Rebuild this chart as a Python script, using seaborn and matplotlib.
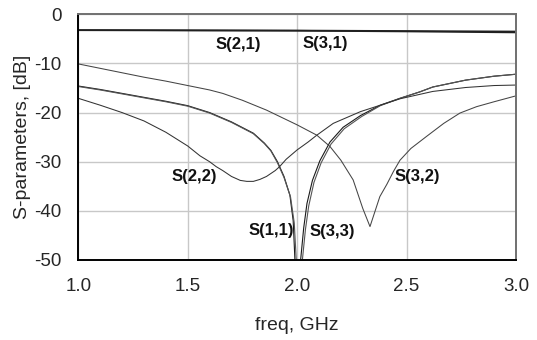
import numpy as np
import pandas as pd
import matplotlib
matplotlib.use('Agg')
import matplotlib.pyplot as plt
import seaborn as sns
from matplotlib.ticker import MultipleLocator

# --- DATA (doc tu hinh) ---

f_21 = [1.0, 1.5, 2.0, 2.5, 3.0]
s21 = [-3.2, -3.25, -3.3, -3.4, -3.5]
f_31 = [1.0, 1.5, 2.0, 2.5, 3.0]
s31 = [-3.25, -3.3, -3.35, -3.5, -3.7]

f_11 = [1.0, 1.1, 1.2, 1.3, 1.4, 1.5, 1.6, 1.7, 1.8, 1.85, 1.88, 1.91, 1.94,
        1.967, 1.982, 1.99, 2.003, 2.016, 2.03, 2.045, 2.07, 2.104, 2.15,
        2.21, 2.29, 2.38, 2.47, 2.56, 2.62, 2.77, 2.9, 3.0]
s11 = [-14.6, -15.3, -16.1, -16.9, -17.7, -18.6, -20.0, -21.9, -24.2, -26.2,
       -27.7, -30.0, -33.0, -36.8, -42.0, -50.0, -62.0, -50.0, -43.5, -38.5,
       -33.8, -29.8, -26.0, -23.0, -20.6, -18.5, -17.1, -15.8, -14.8, -13.4,
       -12.6, -12.2]

f_33 = [1.0, 1.1, 1.2, 1.3, 1.4, 1.5, 1.6, 1.7, 1.8, 1.85, 1.88, 1.91, 1.94,
        1.97, 1.987, 1.996, 2.01, 2.024, 2.038, 2.053, 2.077, 2.11, 2.155,
        2.215, 2.295, 2.38, 2.47, 2.56, 2.62, 2.77, 2.9, 3.0]
s33 = [-14.7, -15.4, -16.2, -17.0, -17.8, -18.7, -20.1, -22.0, -24.3, -26.3,
       -27.8, -30.2, -33.2, -37.2, -42.5, -50.0, -62.0, -50.0, -43.8, -39.0,
       -34.2, -30.2, -26.4, -23.3, -20.8, -18.6, -17.1, -15.8, -14.8, -13.4,
       -12.6, -12.2]

f_22 = [1.0, 1.1, 1.2, 1.3, 1.4, 1.5, 1.556, 1.6, 1.63, 1.66, 1.7, 1.74,
        1.77, 1.8, 1.83, 1.86, 1.9, 1.92, 1.95, 2.0, 2.05, 2.09, 2.165,
        2.29, 2.38, 2.47, 2.62, 2.77, 2.9, 3.0]
s22 = [-17.1, -18.5, -20.0, -21.7, -24.0, -26.8, -28.8, -30.0, -31.0, -31.8,
       -33.0, -33.8, -34.0, -34.0, -33.6, -33.0, -31.8, -31.0, -29.5, -27.6,
       -26.0, -24.6, -22.2, -19.8, -18.5, -17.2, -15.7, -14.9, -14.5, -14.4]

f_32 = [1.0, 1.1, 1.2, 1.3, 1.4, 1.5, 1.6, 1.66, 1.75, 1.86, 1.93, 2.0, 2.09,
        2.15, 2.2, 2.256, 2.3, 2.333, 2.378, 2.41, 2.44, 2.47, 2.52,
        2.59, 2.67, 2.744, 2.82, 2.9, 3.0]
s32 = [-10.1, -11.0, -11.9, -12.8, -13.6, -14.5, -15.4, -16.1, -17.5, -19.5,
       -21.0, -22.5, -24.6, -26.9, -29.7, -33.7, -39.5, -43.2, -37.1,
       -34.6, -32.0, -29.7, -27.3, -24.9, -22.2, -20.1, -18.8, -17.8, -16.6]

curve_names = ["S(2,1)", "S(3,1)", "S(1,1)", "S(3,3)", "S(2,2)", "S(3,2)"]
label_f = [1.732, 2.13, 1.88, 2.161, 1.529, 2.55]
label_db = [-6.2, -5.9, -43.9, -44.2, -33.0, -33.0]


# --- VE ---

sns.set_style("white")
plt.rcParams['font.family'] = ['Liberation Sans', 'DejaVu Sans']
plt.rcParams['axes.unicode_minus'] = False

fig = plt.figure(figsize=(5.37, 3.40), dpi=100)
ax = fig.add_axes([0.1458, 0.2353, 0.815, 0.7227])

curves = [
    (f_21, s21, "#202020", 1.2),
    (f_31, s31, "#202020", 1.2),
    (f_11, s11, "#1a1a1a", 0.8),
    (f_33, s33, "#555555", 0.8),
    (f_22, s22, "#333333", 0.75),
    (f_32, s32, "#444444", 0.75),
]
for fx, sy, col, lw in curves:
    df = pd.DataFrame({"freq": fx, "dB": sy})
    sns.lineplot(data=df, x="freq", y="dB", ax=ax, color=col, linewidth=lw,
                 sort=False, estimator=None)

for name, fx, dy in zip(curve_names, label_f, label_db):
    ax.text(fx, dy, name, ha="center", va="center", fontsize=12,
            fontweight="bold", color="#111111")

ax.set_xlim(1.0, 3.0)
ax.set_ylim(-50, 0)
ax.xaxis.set_major_locator(MultipleLocator(0.5))
ax.xaxis.set_minor_locator(MultipleLocator(0.1))
ax.yaxis.set_major_locator(MultipleLocator(10))
ax.yaxis.set_minor_locator(MultipleLocator(5))
ax.set_xticks([1.0, 1.5, 2.0, 2.5, 3.0])
ax.set_xticklabels(["1.0", "1.5", "2.0", "2.5", "3.0"])

ax.grid(True, which="major", color="#c8c8c8", linewidth=1.0)
ax.set_axisbelow(True)

ax.tick_params(axis="both", which="major", direction="out", length=10,
               width=1.2, color="black", labelsize=13.5, pad=2)
ax.tick_params(axis="both", which="minor", direction="out", length=5.5,
               width=1.0, color="black")
ax.tick_params(axis="x", which="major", pad=3)

for side in ["left", "bottom"]:
    ax.spines[side].set_color("black")
    ax.spines[side].set_linewidth(1.4)
for side in ["top", "right"]:
    ax.spines[side].set_color("#707070")
    ax.spines[side].set_linewidth(1.4)

ax.set_xlabel("freq, GHz", fontsize=14, labelpad=16)
ax.set_ylabel("S-parameters, [dB]", fontsize=14, labelpad=2)

fig.savefig("out.png", dpi=100)
plt.close()
